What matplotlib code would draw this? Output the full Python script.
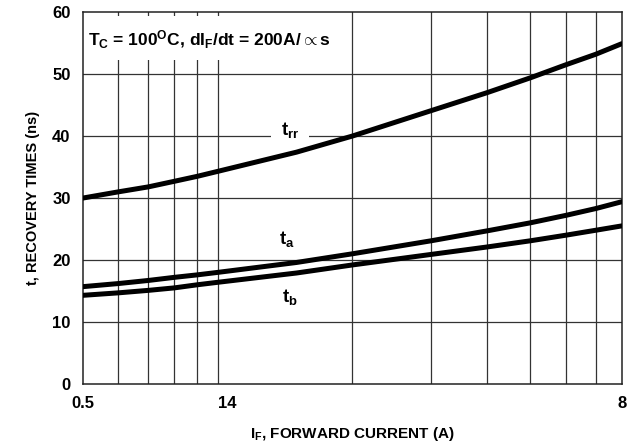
import numpy as np
import matplotlib
matplotlib.use('Agg')
import matplotlib.pyplot as plt
from matplotlib.patches import Rectangle

# 恢复时间 vs 正向电流 (读图估计值)
i_f = [0.5, 0.6, 0.7, 0.8, 0.9, 1, 1.5, 2, 3, 4, 5, 6, 7, 8]
t_rr = [30.0, 31.0, 31.8, 32.7, 33.5, 34.3, 37.4, 40.0, 44.1, 47.0, 49.4, 51.5, 53.2, 54.9]
t_a = [15.7, 16.2, 16.7, 17.2, 17.6, 18.0, 19.6, 21.0, 23.1, 24.7, 26.0, 27.2, 28.3, 29.4]
t_b = [14.3, 14.7, 15.1, 15.5, 16.0, 16.4, 17.9, 19.2, 20.9, 22.1, 23.1, 24.0, 24.8, 25.5]

x_ticks = [0.5, 1, 8]
x_ticklabels = ['0.5', '14', '8']
x_grid = [0.6, 0.7, 0.8, 0.9, 1, 2, 3, 4, 5, 6, 7]
y_ticks = [0, 10, 20, 30, 40, 50, 60]

plt.rcParams['font.family'] = ['Liberation Sans', 'DejaVu Sans']
plt.rcParams['font.weight'] = 'bold'
plt.rcParams['mathtext.fontset'] = 'custom'
plt.rcParams['mathtext.rm'] = 'Liberation Sans:bold'
plt.rcParams['mathtext.it'] = 'Liberation Sans:bold'
plt.rcParams['mathtext.bf'] = 'Liberation Sans:bold'

fig = plt.figure(figsize=(6.39, 4.48), dpi=100)
ax = fig.add_axes([0.130, 0.143, 0.843, 0.830])
ax.set_xscale('log')
ax.set_xlim(0.5, 8)
ax.set_ylim(0, 60)

# 网格线
for gx in x_grid:
    ax.axvline(gx, color='#333333', lw=0.9, zorder=0.5)
for gy in y_ticks[1:-1]:
    ax.axhline(gy, color='#333333', lw=0.9, zorder=0.5)

# 曲线
for yv in (t_rr, t_a, t_b):
    ax.plot(i_f, yv, color='black', lw=3.6, solid_capstyle='round',
            solid_joinstyle='round', zorder=3)

# 标题文字的白底
ax.add_patch(Rectangle((0.5, 52.3), 1.45, 7.0, facecolor='white', edgecolor='none', zorder=1))
ax.text(0.513, 55.6, r'T$_\mathregular{C}$ = 100$^\mathregular{O}$C, dI$_\mathregular{F}$/dt = 200A/$\propto$s',
        fontsize=12.5, ha='left', va='center', zorder=2)

ax.text(1.45, 41.0, r'$\mathrm{t_{rr}}$', fontsize=13.5, ha='center', va='center', zorder=1.5,
        bbox=dict(boxstyle='square,pad=0.5', facecolor='white', edgecolor='none'))
ax.text(1.43, 23.4, r'$\mathrm{t_a}$', fontsize=13.5, ha='center', va='center', zorder=1.5)
ax.text(1.45, 14.0, r'$\mathrm{t_b}$', fontsize=13.5, ha='center', va='center', zorder=1.5)

ax.set_xticks(x_ticks)
ax.set_xticklabels(x_ticklabels)
ax.xaxis.set_minor_locator(matplotlib.ticker.NullLocator())
ax.set_yticks(y_ticks)
ax.tick_params(axis='both', length=0, labelsize=12)
ax.tick_params(axis='x', pad=9)
ax.tick_params(axis='y', pad=9)
for lab in ax.get_xticklabels() + ax.get_yticklabels():
    lab.set_fontweight('bold')
ax.get_xticklabels()[1].set_horizontalalignment('left')

for sp in ax.spines.values():
    sp.set_linewidth(1.1)
    sp.set_color('#222222')

ax.set_xlabel(r'I$_\mathregular{F}$, FORWARD CURRENT (A)', fontsize=11, fontweight='bold', labelpad=10)
ax.set_ylabel('t, RECOVERY TIMES (ns)', fontsize=10.5, fontweight='bold', labelpad=9)

fig.savefig('out.png', dpi=100)
